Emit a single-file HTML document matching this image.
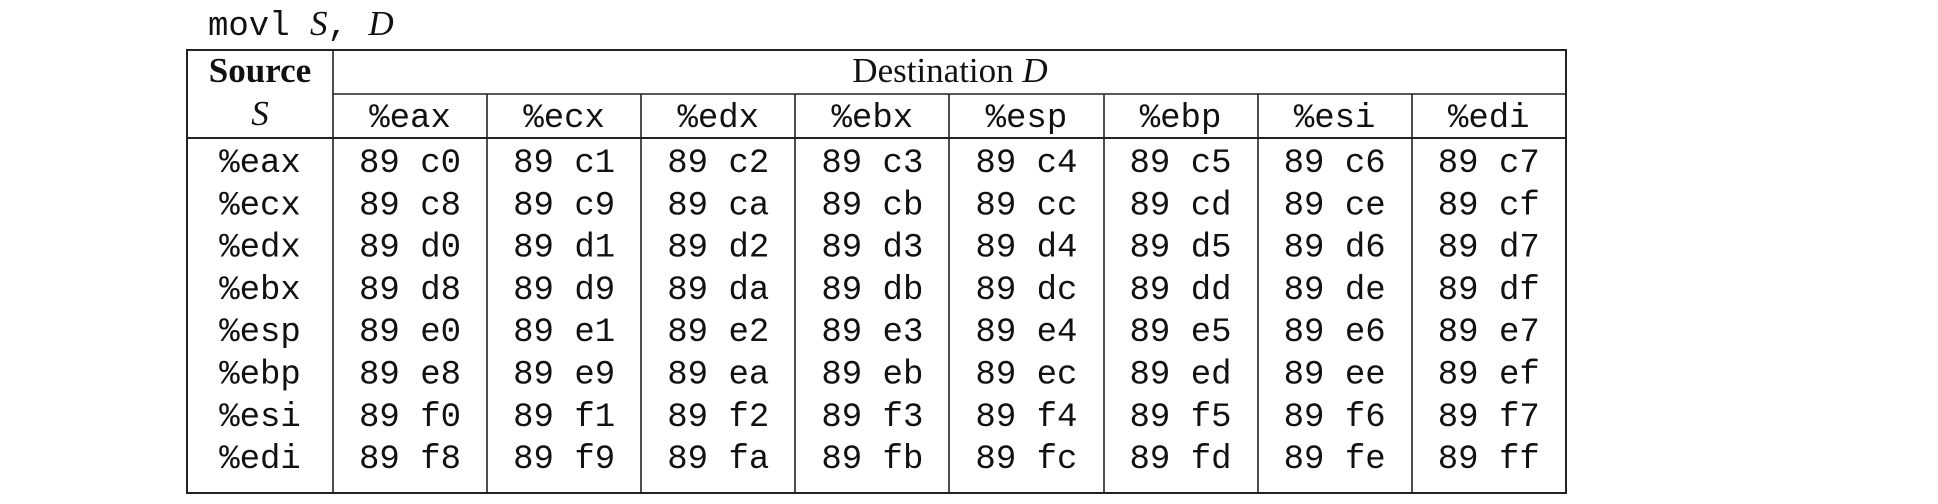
<!DOCTYPE html>
<html><head><meta charset="utf-8"><style>
html,body{margin:0;padding:0;background:#fff;width:1938px;height:504px;overflow:hidden}
svg{display:block}
.m{font-family:"Liberation Mono",monospace;font-size:34px;fill:#111}
.s{font-family:"Liberation Serif",serif;font-size:35px;fill:#111}
</style></head><body>
<svg width="1938" height="504" xmlns="http://www.w3.org/2000/svg">
<text x="208" y="35" class="m">movl <tspan class="s" font-style="italic" font-size="36">S</tspan>, <tspan class="s" font-style="italic" font-size="36">D</tspan></text>
<g stroke="#222" stroke-width="1.6" fill="none">
<rect x="187" y="50" width="1379" height="443" stroke-width="2"/>
<line x1="333" y1="50" x2="333" y2="493"/>
<line x1="333" y1="94" x2="1566" y2="94"/>
<line x1="187" y1="138" x2="1566" y2="138" stroke-width="2"/>
<line x1="487" y1="94" x2="487" y2="493"/>
<line x1="641" y1="94" x2="641" y2="493"/>
<line x1="795" y1="94" x2="795" y2="493"/>
<line x1="949" y1="94" x2="949" y2="493"/>
<line x1="1104" y1="94" x2="1104" y2="493"/>
<line x1="1258" y1="94" x2="1258" y2="493"/>
<line x1="1412" y1="94" x2="1412" y2="493"/>
</g>
<text x="260" y="82" class="s" font-weight="bold" text-anchor="middle">Source</text>
<text x="260" y="125" class="s" font-style="italic" text-anchor="middle">S</text>
<text x="950" y="82" class="s" text-anchor="middle">Destination <tspan font-style="italic">D</tspan></text>
<g id="t"></g>
</svg>
<script>
var regs=["%eax","%ecx","%edx","%ebx","%esp","%ebp","%esi","%edi"];
var g=document.getElementById("t"),ns="http://www.w3.org/2000/svg";
function T(x,y,s){var e=document.createElementNS(ns,"text");e.setAttribute("x",x);e.setAttribute("y",y);e.setAttribute("class","m");e.setAttribute("text-anchor","middle");e.setAttribute("xml:space","preserve");e.style.whiteSpace="pre";e.textContent=s;g.appendChild(e);}
for(var c=0;c<8;c++){T(333+154.1*(c+0.5),127,regs[c]);}
for(var r=0;r<8;r++){var y=172+42.3*r;T(260,y,regs[r]);
for(var c=0;c<8;c++){var v=(0xc0+r*8+c).toString(16);T(333+154.1*(c+0.5),y,"89 "+v);}}
</script>
</body></html>
